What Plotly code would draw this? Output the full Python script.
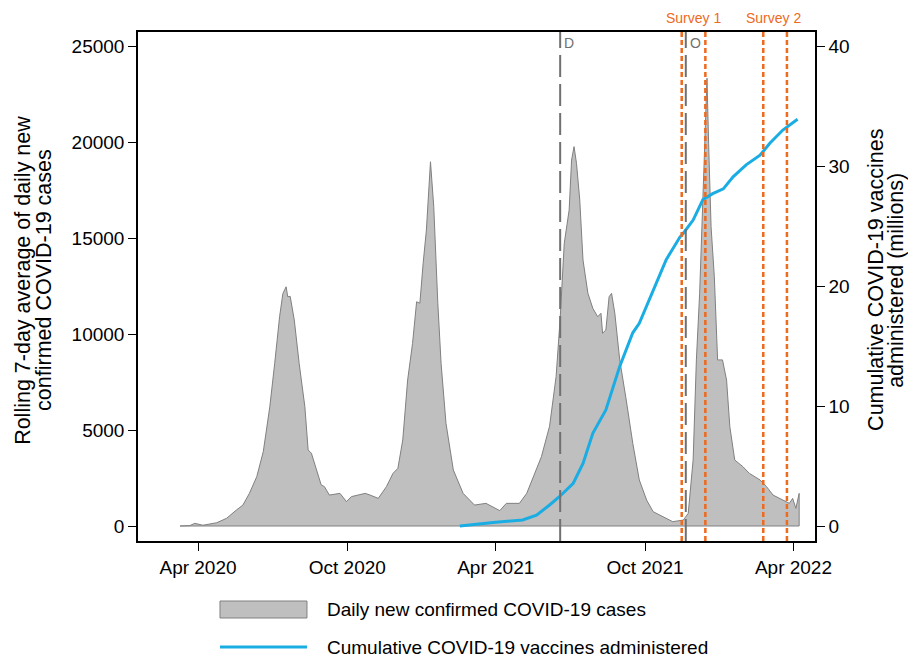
import plotly.graph_objects as go

# ---------------- data ----------------
case_dates = [
    "2020-03-10", "2020-03-22", "2020-03-28", "2020-04-07", "2020-04-24", "2020-05-06",
    "2020-05-18", "2020-05-26", "2020-06-03", "2020-06-12", "2020-06-20", "2020-06-24",
    "2020-06-28", "2020-07-04", "2020-07-10", "2020-07-14", "2020-07-18", "2020-07-20",
    "2020-07-23", "2020-07-28", "2020-08-03", "2020-08-10", "2020-08-14", "2020-08-18",
    "2020-08-24", "2020-08-30", "2020-09-03", "2020-09-09", "2020-09-22", "2020-09-30",
    "2020-10-06", "2020-10-23", "2020-10-29", "2020-11-08", "2020-11-18", "2020-11-26",
    "2020-12-02", "2020-12-08", "2020-12-14", "2020-12-20", "2020-12-25", "2020-12-29",
    "2021-01-02", "2021-01-06", "2021-01-11", "2021-01-15", "2021-01-20", "2021-01-24",
    "2021-01-30", "2021-02-08", "2021-02-20", "2021-03-06", "2021-03-20", "2021-03-29",
    "2021-04-06", "2021-04-14", "2021-04-30", "2021-05-09", "2021-05-17", "2021-05-27",
    "2021-06-06", "2021-06-14", "2021-06-19", "2021-06-24", "2021-06-30", "2021-07-03",
    "2021-07-06", "2021-07-09", "2021-07-13", "2021-07-17", "2021-07-23", "2021-07-29",
    "2021-08-04", "2021-08-08", "2021-08-10", "2021-08-14", "2021-08-18", "2021-08-21",
    "2021-08-25", "2021-08-31", "2021-09-08", "2021-09-16", "2021-09-24", "2021-10-03",
    "2021-10-11", "2021-10-23", "2021-11-04", "2021-11-17", "2021-11-23", "2021-11-29",
    "2021-12-03", "2021-12-07", "2021-12-10", "2021-12-13", "2021-12-16", "2021-12-18",
    "2021-12-21", "2021-12-25", "2021-12-29", "2022-01-04", "2022-01-09", "2022-01-13",
    "2022-01-19", "2022-01-29", "2022-02-06", "2022-02-19", "2022-02-27", "2022-03-07",
    "2022-03-19", "2022-03-27", "2022-03-31", "2022-04-04", "2022-04-08",
]
case_values = [
    0, 20, 140, 40, 170, 400,
    830, 1090, 1700, 2570, 3870, 5000,
    6210, 8470, 10900, 12100, 12460, 11940,
    11960, 10730, 8470, 6210, 3960, 3790,
    2920, 2140, 2050, 1610, 1700, 1270,
    1530, 1700, 1610, 1440, 2050, 2740,
    3000, 4480, 7600, 9510, 11680, 11600,
    13680, 15420, 18970, 16630, 11600, 8470,
    5350, 2920, 1700, 1090, 1180, 1000,
    800, 1180, 1180, 1700, 2570, 3610,
    5200, 7780, 10800, 14720, 16460, 19060,
    19760, 18890, 16980, 13850, 12120, 11340,
    10900, 11080, 10040, 10210, 11940, 12120,
    11080, 8650, 6560, 4310, 2400, 1350,
    745, 485, 225, 310, 660, 3440,
    8650, 12120, 15590, 19060, 23320, 19930,
    15590, 12980, 8650, 8650, 7600, 5170,
    3440, 3090, 2740, 2400, 2050, 1610,
    1350, 1180, 1440, 920, 1700,
]

vax_dates = [
    "2021-02-16", "2021-03-29", "2021-05-04", "2021-05-21", "2021-06-06", "2021-06-18",
    "2021-07-05", "2021-07-17", "2021-07-29", "2021-08-14", "2021-08-31", "2021-09-16",
    "2021-09-24", "2021-10-11", "2021-10-27", "2021-11-13", "2021-11-17", "2021-11-29",
    "2021-12-11", "2021-12-23", "2022-01-05", "2022-01-17", "2022-02-02", "2022-02-19",
    "2022-03-03", "2022-03-19", "2022-04-06",
]
vax_millions = [
    0.0, 0.3, 0.5, 0.9, 1.75, 2.44,
    3.56, 5.22, 7.72, 9.67, 13.3, 16.1,
    16.9, 19.7, 22.2, 24.1, 24.4, 25.5,
    27.2, 27.7, 28.1, 29.1, 30.1, 30.9,
    31.9, 33.0, 33.9,
]

variant_dates = ["2021-06-19", "2021-11-20"]
variant_labels = ["D", "O"]
survey_names = ["Survey 1", "Survey 2"]
survey_starts = ["2021-11-15", "2022-02-23"]
survey_ends = ["2021-12-14", "2022-03-24"]
survey_label_dates = ["2021-11-29", "2022-03-07"]

xtick_vals = ["2020-04-01", "2020-10-01", "2021-04-01", "2021-10-01", "2022-04-01"]
xtick_text = ["Apr 2020", "Oct 2020", "Apr 2021", "Oct 2021", "Apr 2022"]
y1_ticks = [0, 5000, 10000, 15000, 20000, 25000]
y2_ticks = [0, 10, 20, 30, 40]

left_title_lines = ["Rolling 7-day average of daily new", "confirmed COVID-19 cases"]
right_title_lines = ["Cumulative COVID-19 vaccines", "administered (millions)"]
legend_labels = ["Daily new confirmed COVID-19 cases", "Cumulative COVID-19 vaccines administered"]

# ---------------- styles ----------------
FONT = "Liberation Sans, Arial, Helvetica, sans-serif"
GRAY_FILL = "#bfbfbf"
GRAY_LINE = "#808080"
BLUE = "#1aade4"
ORANGE = "#ee6a1c"
VARIANT = "#707070"

fig = go.Figure()

# area (closed polygon down to zero)
fig.add_trace(go.Scatter(
    x=case_dates + case_dates[::-1],
    y=case_values + [0] * len(case_values),
    fill="toself", fillcolor=GRAY_FILL,
    line=dict(color=GRAY_LINE, width=1),
    mode="lines", hoverinfo="skip", showlegend=False,
))

fig.add_trace(go.Scatter(
    x=vax_dates, y=vax_millions, yaxis="y2",
    mode="lines", line=dict(color=BLUE, width=3),
    showlegend=False,
))

shapes = []
annotations = []

for d, lab in zip(variant_dates, variant_labels):
    shapes.append(dict(type="line", xref="x", yref="paper", x0=d, x1=d, y0=0, y1=1,
                       line=dict(color=VARIANT, width=2, dash="22px,7px"), layer="above"))
    annotations.append(dict(x=d, y=0.978, xref="x", yref="paper", text=lab,
                            showarrow=False, xanchor="left", yanchor="middle", xshift=2,
                            font=dict(family=FONT, size=14, color=VARIANT)))

for s, e, name, mid in zip(survey_starts, survey_ends, survey_names, survey_label_dates):
    for d in (s, e):
        shapes.append(dict(type="line", xref="x", yref="paper", x0=d, x1=d, y0=0, y1=1,
                           line=dict(color=ORANGE, width=2.5, dash="5px,3px"), layer="above"))
    annotations.append(dict(x=mid, y=1.0, xref="x", yref="paper", text=name,
                            showarrow=False, xanchor="center", yanchor="bottom", yshift=4,
                            font=dict(family=FONT, size=14, color=ORANGE)))

# axis titles (one annotation per line for tight spacing)
TITLE_Y = 0.513
for txt, px in zip(left_title_lines, [-0.1699, -0.1388]):
    annotations.append(dict(x=px, y=TITLE_Y, xref="paper", yref="paper", text=txt,
                            textangle=-90, showarrow=False, xanchor="center", yanchor="middle",
                            font=dict(family=FONT, size=21.5, color="black")))
for txt, px in zip(right_title_lines, [1.0901, 1.1196]):
    annotations.append(dict(x=px, y=TITLE_Y, xref="paper", yref="paper", text=txt,
                            textangle=-90, showarrow=False, xanchor="center", yanchor="middle",
                            font=dict(family=FONT, size=21.5, color="black")))

# manual legend
shapes.append(dict(type="rect", xref="paper", yref="paper", x0=0.1211, x1=0.2496,
                   y0=-0.1513, y1=-0.1179, fillcolor=GRAY_FILL,
                   line=dict(color=GRAY_LINE, width=1)))
shapes.append(dict(type="line", xref="paper", yref="paper", x0=0.1211, x1=0.2496,
                   y0=-0.2083, y1=-0.2083, line=dict(color=BLUE, width=3)))
for txt, py in zip(legend_labels, [-0.1346, -0.2083]):
    annotations.append(dict(x=0.2762, y=py, xref="paper", yref="paper", text=txt,
                            showarrow=False, xanchor="left", yanchor="middle",
                            font=dict(family=FONT, size=19, color="black")))

axis_common = dict(showgrid=False, zeroline=False, showline=True, linecolor="black",
                   linewidth=1.5, ticks="outside", ticklen=8, tickwidth=1.2, tickcolor="black",
                   tickfont=dict(family=FONT, size=19, color="black"))

fig.update_layout(
    width=908, height=657,
    margin=dict(l=138, r=93, t=32, b=116),
    paper_bgcolor="white", plot_bgcolor="white",
    font=dict(family=FONT, color="black"),
    showlegend=False,
    xaxis=dict(type="date", range=["2020-01-18 10:00", "2022-04-27 10:00"],
               tickvals=xtick_vals, ticktext=xtick_text, mirror=True, **axis_common),
    yaxis=dict(range=[-781, 25729], tickvals=y1_ticks, tickformat="d", mirror=True,
               **axis_common),
    yaxis2=dict(range=[-1.25, 41.17], tickvals=y2_ticks, tickformat="d", overlaying="y",
                side="right", **axis_common),
    shapes=shapes,
    annotations=annotations,
)

fig.write_html("out.html",
               config={"displayModeBar": False},
               post_script="document.body.style.margin='0';document.body.style.padding='0';")
